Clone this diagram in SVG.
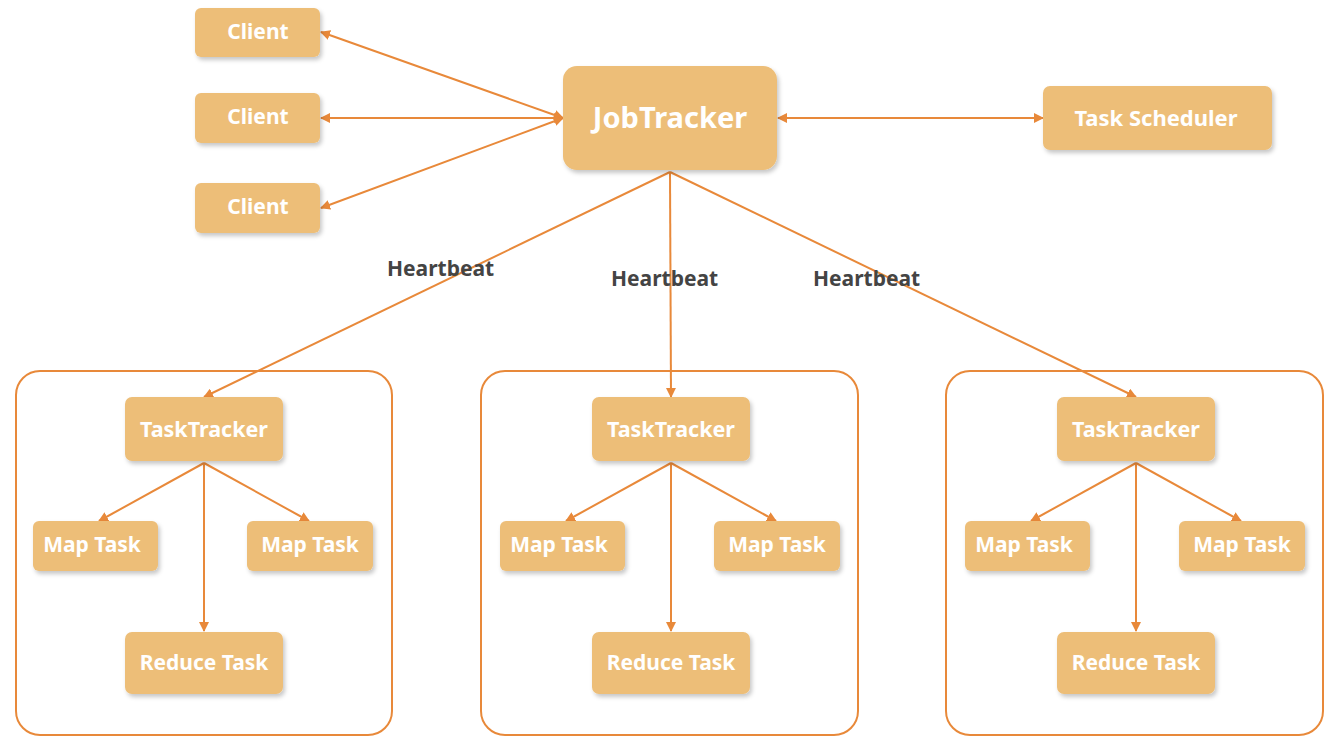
<svg xmlns="http://www.w3.org/2000/svg" width="1336" height="752" viewBox="0 0 1336 752">
<defs>
<filter id="sh" x="-10%" y="-10%" width="130%" height="140%">
<feDropShadow dx="2" dy="3" stdDeviation="2" flood-color="#000" flood-opacity="0.22"/>
</filter>
<marker id="ah" viewBox="0 0 10 10" refX="9" refY="5" markerWidth="10" markerHeight="10" markerUnits="userSpaceOnUse" orient="auto-start-reverse">
<path d="M0,0 L10,5 L0,10 z" fill="#E8893A"/>
</marker>
</defs>
<style>
.n{fill:#EDBE78;filter:url(#sh)}
.t{fill:#fff;font-family:"Noto Sans","Open Sans",sans-serif;font-weight:bold;text-anchor:middle;dominant-baseline:central}
.c{fill:none;stroke:#E8893A;stroke-width:2}
.box{fill:none;stroke:#E8893A;stroke-width:2}
.hb{fill:#444;font-family:"Noto Sans","Open Sans",sans-serif;font-weight:bold;font-size:21px}
</style>
<rect width="1336" height="752" fill="#fff"/>
<g id="containers">
<rect class="box" x="16" y="371" width="376" height="364" rx="24"/>
<rect class="box" x="481" y="371" width="377" height="364" rx="24"/>
<rect class="box" x="946" y="371" width="377" height="364" rx="24"/>
</g>
<g id="connectors">
<line class="c" x1="563" y1="118" x2="321" y2="32" marker-start="url(#ah)" marker-end="url(#ah)"/>
<line class="c" x1="563" y1="118" x2="321" y2="118" marker-start="url(#ah)" marker-end="url(#ah)"/>
<line class="c" x1="563" y1="118" x2="321" y2="208" marker-start="url(#ah)" marker-end="url(#ah)"/>
<line class="c" x1="778" y1="118" x2="1043" y2="118" marker-start="url(#ah)" marker-end="url(#ah)"/>
<line class="c" x1="670" y1="172" x2="204" y2="397" marker-end="url(#ah)"/>
<line class="c" x1="670" y1="172" x2="671" y2="397" marker-end="url(#ah)"/>
<line class="c" x1="670" y1="172" x2="1136" y2="397" marker-end="url(#ah)"/>
<line class="c" x1="204" y1="463" x2="99" y2="521" marker-end="url(#ah)"/>
<line class="c" x1="204" y1="463" x2="309" y2="521" marker-end="url(#ah)"/>
<line class="c" x1="204" y1="463" x2="204" y2="631" marker-end="url(#ah)"/>
<line class="c" x1="671" y1="463" x2="566" y2="521" marker-end="url(#ah)"/>
<line class="c" x1="671" y1="463" x2="776" y2="521" marker-end="url(#ah)"/>
<line class="c" x1="671" y1="463" x2="671" y2="631" marker-end="url(#ah)"/>
<line class="c" x1="1136" y1="463" x2="1031" y2="521" marker-end="url(#ah)"/>
<line class="c" x1="1136" y1="463" x2="1241" y2="521" marker-end="url(#ah)"/>
<line class="c" x1="1136" y1="463" x2="1136" y2="631" marker-end="url(#ah)"/>
<text class="hb" x="387" y="276">Heartbeat</text>
<text class="hb" x="611" y="286">Heartbeat</text>
<text class="hb" x="813" y="286">Heartbeat</text>
</g>
<g id="client1"><rect class="n" x="195" y="8" width="125" height="49" rx="6"/><text class="t" x="258" y="31" font-size="21">Client</text></g>
<g id="client2"><rect class="n" x="195" y="93" width="125" height="50" rx="6"/><text class="t" x="258" y="116" font-size="21">Client</text></g>
<g id="client3"><rect class="n" x="195" y="183" width="125" height="50" rx="6"/><text class="t" x="258" y="206" font-size="21">Client</text></g>
<g id="jobtracker"><rect class="n" x="563" y="66" width="214" height="104" rx="14"/><text class="t" x="670" y="116" font-size="29">JobTracker</text></g>
<g id="scheduler"><rect class="n" x="1043" y="86" width="229" height="64" rx="7"/><text class="t" x="1156" y="117" font-size="22">Task Scheduler</text></g>
<g id="tt1"><rect class="n" x="125" y="397" width="158" height="64" rx="7"/><text class="t" x="204" y="428" font-size="21.5">TaskTracker</text></g>
<g id="map1a"><rect class="n" x="33" y="521" width="125" height="50" rx="6"/><text class="t" x="92" y="544" font-size="21">Map Task</text></g>
<g id="map1b"><rect class="n" x="247" y="521" width="126" height="50" rx="6"/><text class="t" x="310" y="544" font-size="21">Map Task</text></g>
<g id="red1"><rect class="n" x="125" y="632" width="158" height="62" rx="7"/><text class="t" x="204" y="662" font-size="21">Reduce Task</text></g>
<g id="tt2"><rect class="n" x="592" y="397" width="158" height="64" rx="7"/><text class="t" x="671" y="428" font-size="21.5">TaskTracker</text></g>
<g id="map2a"><rect class="n" x="500" y="521" width="125" height="50" rx="6"/><text class="t" x="559" y="544" font-size="21">Map Task</text></g>
<g id="map2b"><rect class="n" x="714" y="521" width="126" height="50" rx="6"/><text class="t" x="777" y="544" font-size="21">Map Task</text></g>
<g id="red2"><rect class="n" x="592" y="632" width="158" height="62" rx="7"/><text class="t" x="671" y="662" font-size="21">Reduce Task</text></g>
<g id="tt3"><rect class="n" x="1057" y="397" width="158" height="64" rx="7"/><text class="t" x="1136" y="428" font-size="21.5">TaskTracker</text></g>
<g id="map3a"><rect class="n" x="965" y="521" width="125" height="50" rx="6"/><text class="t" x="1024" y="544" font-size="21">Map Task</text></g>
<g id="map3b"><rect class="n" x="1179" y="521" width="126" height="50" rx="6"/><text class="t" x="1242" y="544" font-size="21">Map Task</text></g>
<g id="red3"><rect class="n" x="1057" y="632" width="158" height="62" rx="7"/><text class="t" x="1136" y="662" font-size="21">Reduce Task</text></g>
</svg>
